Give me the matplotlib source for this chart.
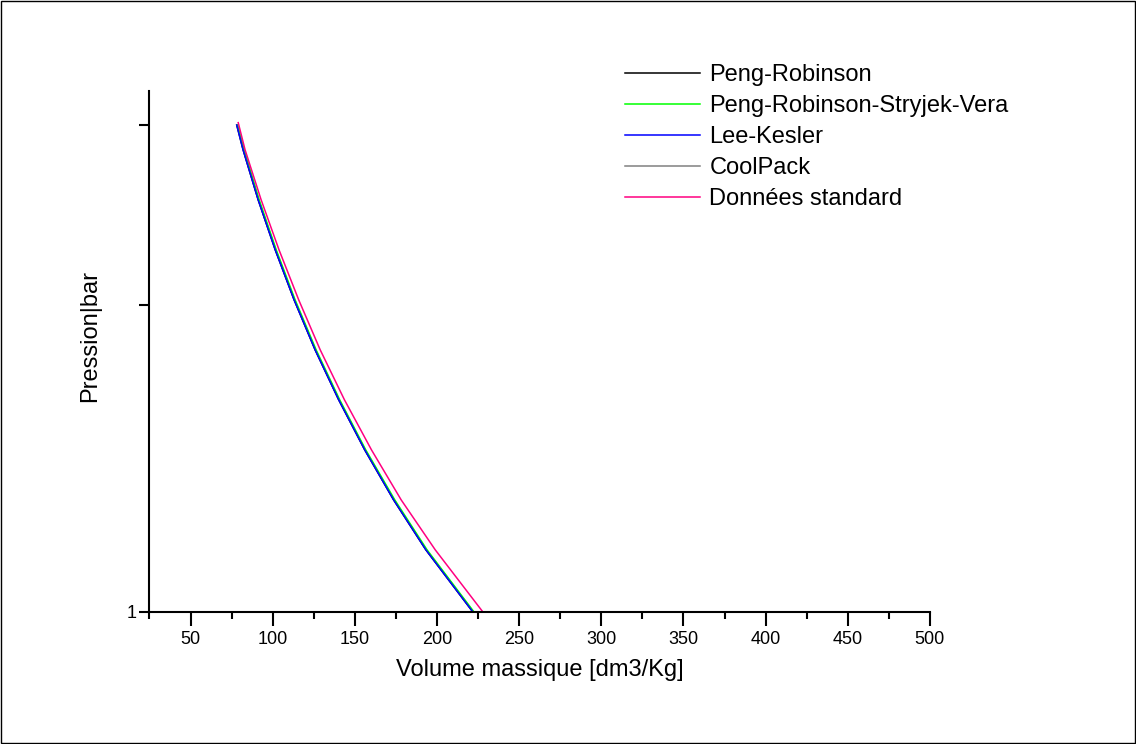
import numpy as np
import matplotlib.pyplot as plt
from matplotlib.patches import Rectangle

plt.rcParams['font.family'] = ['Liberation Sans', 'DejaVu Sans']

# pression [bar] et volume massique [dm3/kg]
pression = [3.0, 2.839, 2.535, 2.264, 2.022, 1.806, 1.614, 1.441, 1.287, 1.150, 1.0]
v_peng_robinson = [78.1, 81.9, 91.1, 101.5, 113.0, 125.8, 140.1, 156.0, 173.6, 193.2, 221.7]
v_prsv = [78.6, 82.5, 91.7, 102.1, 113.6, 126.4, 140.7, 156.6, 174.3, 193.9, 222.4]
v_lee_kesler = [78.1, 81.9, 91.1, 101.5, 113.0, 125.8, 140.1, 156.0, 173.6, 193.2, 221.7]
v_coolpack = [78.4, 82.2, 91.4, 101.8, 113.3, 126.1, 140.4, 156.3, 173.9, 193.5, 222.0]
pression_std = [3.016, 2.839, 2.535, 2.264, 2.022, 1.806, 1.614, 1.441, 1.287, 1.150, 1.0]
v_standard = [79.0, 83.1, 92.9, 103.8, 115.8, 128.9, 143.6, 160.1, 178.2, 198.9, 227.8]

x_ticks = [50, 100, 150, 200, 250, 300, 350, 400, 450, 500]

fig = plt.figure(figsize=(11.36, 7.44), dpi=100)
ax = fig.add_axes([0.1316, 0.1778, 0.687, 0.70])

l1, = ax.plot(v_peng_robinson, pression, color='black', lw=1.1)
l4, = ax.plot(v_coolpack, pression, color='#808080', lw=1.1)
l2, = ax.plot(v_prsv, pression, color='#00ff00', lw=1.1)
l3, = ax.plot(v_lee_kesler, pression, color='#0000ff', lw=1.1)
l5, = ax.plot(v_standard, pression_std, color='#ff0080', lw=1.1)

ax.set_yscale('log')
ax.set_xlim(25, 500)
ax.set_ylim(1, 3.24)
ax.set_yticks([1, 2, 3])
ax.set_yticklabels(['1', '', ''])
ax.yaxis.set_minor_locator(plt.NullLocator())
ax.set_xticks(x_ticks)
ax.set_xticks(np.arange(25, 500, 50), minor=True)

for s in ['top', 'right']:
    ax.spines[s].set_visible(False)
for s in ['left', 'bottom']:
    ax.spines[s].set_linewidth(1.5)
ax.tick_params(axis='x', which='major', length=10, width=1.5, labelsize=13, pad=4)
ax.tick_params(axis='x', which='minor', length=5, width=1.5)
ax.tick_params(axis='y', which='major', length=7, width=1.5, labelsize=13, pad=2)

ax.set_xlabel('Volume massique [dm3/Kg]', fontsize=17, labelpad=8)
ax.set_ylabel('Pression|bar', fontsize=17)
ax.yaxis.set_label_coords(-0.062, 0.53)

fig.legend([l1, l2, l3, l4, l5],
           ['Peng-Robinson', 'Peng-Robinson-Stryjek-Vera', 'Lee-Kesler', 'CoolPack', 'Données standard'],
           loc='upper left', bbox_to_anchor=(0.550, 0.914), frameon=False,
           fontsize=17, handlelength=3.2, handletextpad=0.38, labelspacing=0.385,
           borderpad=0, borderaxespad=0)

fig.patches.append(Rectangle((0.0005, 0.0007), 0.999, 0.9986, transform=fig.transFigure,
                             fill=False, edgecolor='black', lw=1))

fig.savefig('out.png', dpi=100)
